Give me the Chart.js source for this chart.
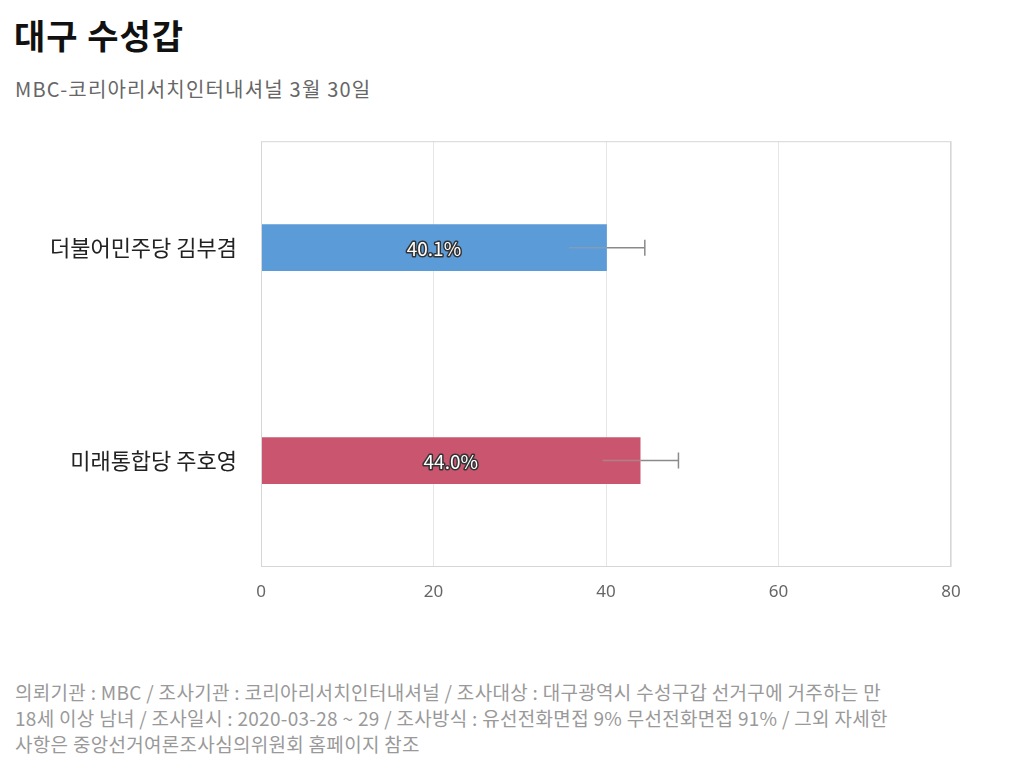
<!DOCTYPE html>
<html>
<head>
<meta charset="utf-8">
<script src="https://cdn.jsdelivr.net/npm/chart.js@4"></script>
<style>
  body { margin: 0; width: 1024px; height: 784px; background: #fff; font-family: "Noto Sans CJK KR", "Noto Sans", sans-serif; position: relative; overflow: hidden; }
  #title { position: absolute; left: 14px; top: 10px; font-size: 34px; letter-spacing: 1px; font-weight: bold; color: #111; }
  #subtitle { position: absolute; left: 15px; top: 74px; font-size: 20px; letter-spacing: 1.2px; color: #666; }
  #chartBox { position: absolute; left: 0; top: 104px; width: 1024px; height: 516px; }
  #note { position: absolute; left: 15px; top: 679px; font-size: 19px; letter-spacing: 0.3px; line-height: 26px; color: #999; white-space: nowrap; }
</style>
</head>
<body>
<div id="title">대구 수성갑</div>
<div id="subtitle">MBC-코리아리서치인터내셔널 3월 30일</div>
<div id="chartBox"><canvas id="barChart"></canvas></div>
<div id="note">의뢰기관 : MBC / 조사기관 : 코리아리서치인터내셔널 / 조사대상 : 대구광역시 수성구갑 선거구에 거주하는 만<br>18세 이상 남녀 / 조사일시 : 2020-03-28 ~ 29 / 조사방식 : 유선전화면접 9% 무선전화면접 91% / 그외 자세한<br>사항은 중앙선거여론조사심의위원회 홈페이지 참조</div>
<script>
const candidates = ["더불어민주당 김부겸", "미래통합당 주호영"];
const support = [40.1, 44.0];
const marginOfError = [4.4, 4.4];
const barColors = ["#5b9bd8", "#c9566e"];
const xTicks = [0, 20, 40, 60, 80];

// 오차범위 + 막대 안 수치 + 외곽 박스
const extras = {
  id: "extras",
  afterDatasetsDraw(chart) {
    const { ctx, chartArea, scales: { x, y } } = chart;
    ctx.save();
    ctx.strokeStyle = "#d6d6d6";
    ctx.lineWidth = 1;
    ctx.strokeRect(chartArea.left + 0.5, chartArea.top + 0.5, chartArea.width - 1, chartArea.height - 1);

    support.forEach((v, i) => {
      const cy = y.getPixelForValue(i);
      const lo = x.getPixelForValue(v - marginOfError[i]);
      const hi = x.getPixelForValue(v + marginOfError[i]);
      const end = x.getPixelForValue(v);
      ctx.lineWidth = 1.5;
      ctx.strokeStyle = "rgba(160,160,160,0.55)";
      ctx.beginPath();
      ctx.moveTo(lo, cy); ctx.lineTo(end, cy);
      ctx.stroke();
      ctx.strokeStyle = "#8a8a8a";
      ctx.beginPath();
      ctx.moveTo(end, cy); ctx.lineTo(hi, cy);
      ctx.moveTo(hi, cy - 8); ctx.lineTo(hi, cy + 8);
      ctx.stroke();

      const cx = x.getPixelForValue(v / 2);
      const label = v.toFixed(1) + "%";
      ctx.font = "19px 'Noto Sans CJK KR', sans-serif";
      ctx.textAlign = "center";
      ctx.textBaseline = "middle";
      ctx.lineJoin = "round";
      ctx.lineWidth = 3;
      ctx.strokeStyle = "#333";
      ctx.strokeText(label, cx, cy + 1);
      ctx.fillStyle = "#fff";
      ctx.fillText(label, cx, cy + 1);
    });
    ctx.restore();
  },
};

new Chart(document.getElementById("barChart").getContext("2d"), {
  type: "bar",
  plugins: [extras],
  data: {
    labels: candidates,
    datasets: [{
      data: support,
      backgroundColor: barColors,
      barPercentage: 0.22,
      categoryPercentage: 1,
    }],
  },
  options: {
    indexAxis: "y",
    animation: false,
    responsive: true,
    maintainAspectRatio: false,
    layout: { padding: { top: 0, right: 73, left: 0, bottom: 0 } },
    plugins: { legend: { display: false }, tooltip: { enabled: false } },
    scales: {
      x: {
        min: 0,
        max: 80,
        afterBuildTicks: (scale) => { scale.ticks = xTicks.map((v) => ({ value: v })); },
        afterFit: (scale) => { scale.height = 53; },
        grid: { color: "#e6e6e6", drawTicks: false },
        border: { display: false },
        ticks: { color: "#666", padding: 15, font: { size: 17, family: "'Noto Sans', sans-serif" } },
      },
      y: {
        afterFit: (scale) => { scale.width = 261; },
        grid: { display: false, drawTicks: false },
        border: { display: false },
        ticks: { color: "#222", padding: 24, font: { size: 22, family: "'Noto Sans CJK KR', sans-serif" } },
      },
    },
  },
});
</script>
</body>
</html>
